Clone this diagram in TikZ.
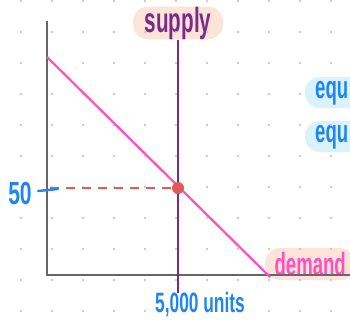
\documentclass[tikz,border=0pt]{standalone}
\usepackage{fontspec}
\setmainfont{Liberation Sans}
\definecolor{dotgray}{HTML}{C9C9C9}
\definecolor{axisgray}{HTML}{666666}
\definecolor{peach}{HTML}{FCE4D8}
\definecolor{skyfill}{HTML}{DAF2FC}
\definecolor{supplypurple}{HTML}{7B2A8C}
\definecolor{demandpink}{HTML}{FF4FC0}
\definecolor{handblue}{HTML}{1E86EE}
\definecolor{eqred}{HTML}{E05A5A}
\newcommand{\hand}[3][0.6]{\fontsize{#2}{#2}\selectfont\bfseries\scalebox{#1}[1]{#3}}
\tikzset{
  bubble/.style={rounded corners=15pt, inner sep=0pt, minimum height=32pt},
  curve/.style={line width=2.2pt},
}
\begin{document}
\begin{tikzpicture}[x=1pt,y=-1pt]
      \clip (0,0) rectangle (350,324);

      % Labels with bubbles
      \node[bubble, fill=peach, text=supplypurple, minimum width=90pt] (supply) at (178,23) {\hand[0.59]{35}{supply}};
      \node[bubble, fill=peach, text=demandpink, minimum width=90pt, anchor=west] (demand) at (265,264) {\hand[0.58]{32}{demand}};
      \fill[skyfill, rounded corners=15pt] (305,77) rectangle (400,108);
      \fill[skyfill, rounded corners=15pt] (305,121) rectangle (400,152);
      \node[text=handblue, anchor=west, inner sep=0pt] (eqa) at (315,93) {\hand[0.58]{32}{equ}};
      \node[text=handblue, anchor=west, inner sep=0pt] (eqb) at (315,137) {\hand[0.58]{32}{equ}};

      % Dots
      \foreach \i in {0,...,10}
        \foreach \j in {0,...,10}
          \fill[dotgray] (21+31*\i,1+31*\j) circle (1.4pt);

      % Axes
      \coordinate (O) at (47,275);
      \coordinate (Y) at (47,21);
      \coordinate (X) at (352,275);
      \draw[axisgray, line width=2.6pt] (Y) -- (O) -- (X);

      % Curves
      \coordinate (D1) at (47,57);
      \coordinate (D2) at (270,277);
      \coordinate (S2) at (178,293);
      \draw[curve, supplypurple] (supply.south) -- (S2);
      \draw[curve, demandpink] (D1) -- (D2);

      % Equilibrium
      \node[circle, fill=eqred, minimum size=12pt, inner sep=0pt] (E) at (178,188) {};
      \coordinate (P) at (50,188);
      \draw[eqred, line width=2pt, dash pattern=on 9pt off 7pt] (P) -- (E);
      \coordinate (T1) at (38,191);
      \coordinate (T2) at (58,189);
      \draw[handblue, line width=2.4pt, line cap=round] (T1) -- (T2);
      \node[text=handblue] (price) at (20,193) {\hand[0.66]{32}{50}};
      \node[text=handblue] (qty) at (200,305) {\hand[0.62]{28}{5,000 units}};
\end{tikzpicture}
\end{document}
